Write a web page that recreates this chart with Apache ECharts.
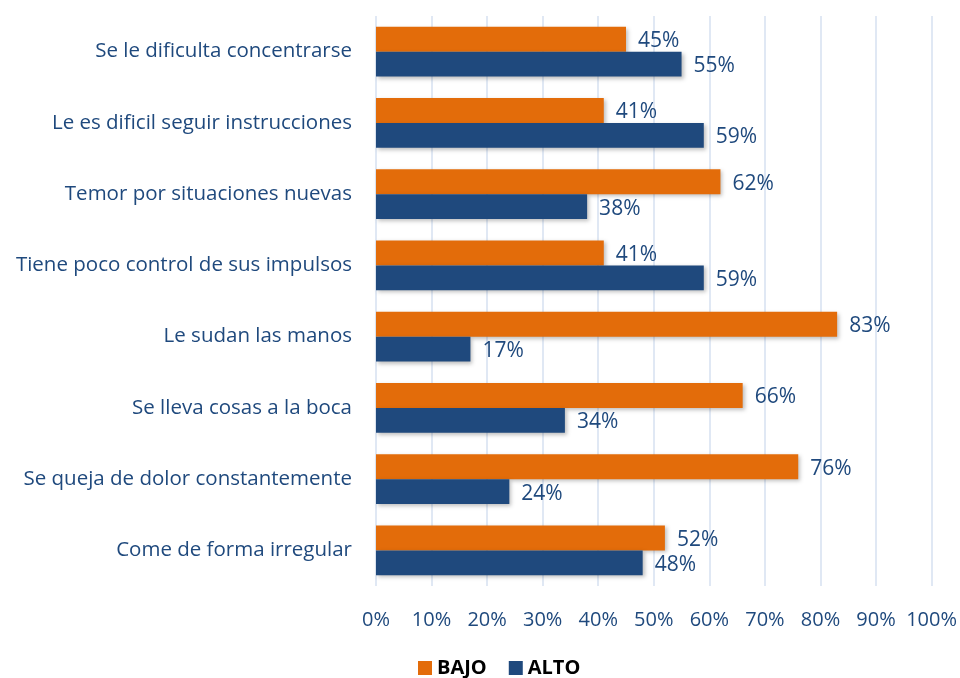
<!DOCTYPE html>
<html>
<head>
	<meta charset="UTF-8">
	<title></title>
	<style type="text/css">
		html, body { margin: 0; padding: 0; background: #fff; }
		.data { width: 960px; height: 678px; }
	</style>
</head>
<body>
	<div class="data"></div>
	<script src="https://cdn.jsdelivr.net/npm/echarts@6/dist/echarts.min.js"></script>
	<script type="text/javascript">
		var categories = [
			'Se le dificulta concentrarse',
			'Le es dificil seguir instrucciones',
			'Temor por situaciones nuevas',
			'Tiene poco control de sus impulsos',
			'Le sudan las manos',
			'Se lleva cosas a la boca',
			'Se queja de dolor constantemente',
			'Come de forma irregular'
		];
		var bajo = [45, 41, 62, 41, 83, 66, 76, 52];
		var alto = [55, 59, 38, 59, 17, 34, 24, 48];
		var xTicks = [0, 10, 20, 30, 40, 50, 60, 70, 80, 90, 100];

		var textColor = '#1F497D';
		var font = '"Open Sans", "Noto Sans", sans-serif';
		var chart = echarts.init(document.querySelector('.data'));

		function barSeries(name, data, color) {
			return {
				name: name,
				type: 'bar',
				data: data,
				barGap: '0%',
				barCategoryGap: '30%',
				itemStyle: {
					color: color,
					shadowColor: 'rgba(0,0,0,0.25)',
					shadowBlur: 4,
					shadowOffsetX: 2,
					shadowOffsetY: 2
				},
				label: {
					show: true,
					position: 'right',
					distance: 12,
					offset: [0, 2],
					color: textColor,
					fontFamily: font,
					fontSize: 21,
					formatter: '{c}%'
				}
			};
		}

		var option = {
			animation: false,
			grid: { left: 376, right: 28, top: 16, bottom: 92 },
			legend: {
				bottom: -5,
				left: 413,
				itemWidth: 14,
				itemHeight: 14,
				itemGap: 22,
				icon: 'rect',
				textStyle: { color: '#000', fontWeight: 'bold', fontSize: 20, fontFamily: font },
				data: ['BAJO', 'ALTO']
			},
			xAxis: {
				type: 'value',
				min: 0,
				max: 100,
				interval: 10,
				axisLine: { show: false },
				axisTick: { show: false },
				splitLine: { lineStyle: { color: '#D6E1F0', width: 1.5 } },
				axisLabel: {
					color: textColor,
					fontFamily: font,
					fontSize: 20,
					margin: 24,
					formatter: function (v) { return xTicks.indexOf(v) >= 0 ? v + '%' : ''; }
				}
			},
			yAxis: {
				type: 'category',
				inverse: true,
				data: categories,
				axisLine: { show: false },
				axisTick: { show: false },
				axisLabel: {
					color: textColor,
					fontFamily: font,
					fontSize: 20.5,
					margin: 24
				}
			},
			series: [
				barSeries('BAJO', bajo, '#E36C0A'),
				barSeries('ALTO', alto, '#1F497D')
			]
		};

		chart.setOption(option);
	</script>
</body>
</html>
